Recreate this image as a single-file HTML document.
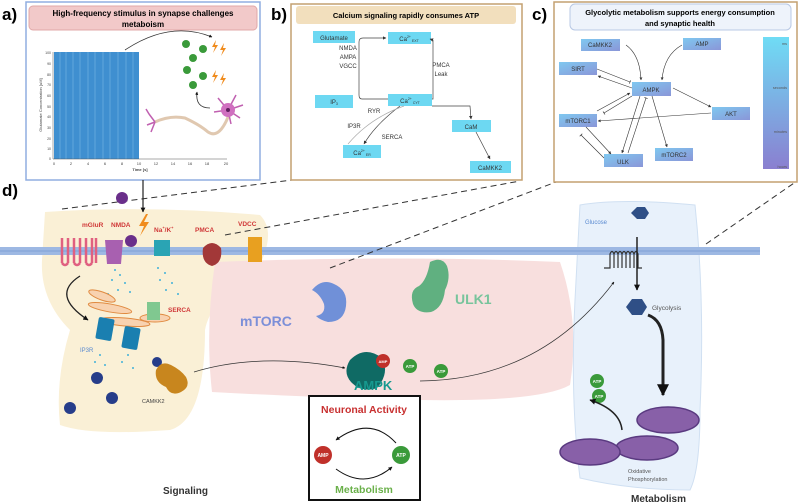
<!DOCTYPE html>
<html><head><meta charset="utf-8"><style>
html,body{margin:0;padding:0;background:#fff}
svg{display:block;font-family:"Liberation Sans",sans-serif}
</style></head><body>
<svg width="800" height="503" viewBox="0 0 800 503" xmlns="http://www.w3.org/2000/svg">
<defs>
<marker id="ah" viewBox="0 0 10 10" refX="9" refY="5" markerWidth="5" markerHeight="5" orient="auto"><path d="M0,0L10,5L0,10z" fill="#333"/></marker>
<marker id="ahb" viewBox="0 0 10 10" refX="9" refY="5" markerWidth="4" markerHeight="4" orient="auto"><path d="M0,0L10,5L0,10z" fill="#111"/></marker>
<marker id="tb" viewBox="0 0 10 10" refX="5" refY="5" markerWidth="6" markerHeight="6" orient="auto"><path d="M5,0L5,10" stroke="#333" stroke-width="2"/></marker>
<linearGradient id="bar" x1="0" y1="0" x2="0" y2="1"><stop offset="0" stop-color="#6fdcf5"/><stop offset="1" stop-color="#8a7fd0"/></linearGradient>
<linearGradient id="nd" x1="0" y1="0" x2="1" y2="1"><stop offset="0" stop-color="#7fc8f0"/><stop offset="1" stop-color="#8a96d8"/></linearGradient>
</defs>

<path d="M45,212 Q150,205 260,215 Q275,230 262,260 Q210,300 205,330 Q205,420 170,430 Q90,436 60,425 Q55,380 70,330 Q40,300 42,260 Z" fill="#faf0d6"/>
<path d="M215,262 Q400,255 560,262 Q580,320 570,385 Q540,402 420,400 Q300,397 212,392 Q205,330 215,262Z" fill="#f8dfde"/>
<path d="M580,205 Q620,198 695,205 Q705,300 700,410 Q700,470 690,490 Q630,490 580,478 Q570,400 575,300 Z" fill="#e8f1fb" stroke="#d0e0f2"/>

<rect x="0" y="247" width="760" height="8" fill="#9db8e3"/>
<line x1="0" y1="251" x2="760" y2="251" stroke="#7f9fd6" stroke-width="1"/>

<g stroke="#333" stroke-dasharray="6,4" fill="none" stroke-width="1">
<line x1="62" y1="209" x2="292" y2="180"/>
<line x1="225" y1="235" x2="520" y2="181"/>
<line x1="330" y1="268" x2="556" y2="182"/>
<line x1="706" y1="244" x2="797" y2="181"/>
</g>

<text x="2" y="20" font-size="17" font-weight="bold">a)</text>
<rect x="26" y="2" width="234" height="178" fill="#fff" stroke="#90aee0" stroke-width="1.5"/>
<rect x="29" y="6" width="228" height="24" rx="4" fill="#f2c9c9" stroke="#e0a8a8"/>
<text x="143" y="16" font-size="8" font-weight="bold" text-anchor="middle">High-frequency stimulus in synapse challenges</text>
<text x="143" y="27" font-size="8" font-weight="bold" text-anchor="middle">metaboism</text>
<rect x="54" y="52" width="85" height="107" fill="#3f8fd0"/>
<g stroke="#7ab8e6" stroke-width="0.6">
<line x1="60" y1="52" x2="60" y2="159"/><line x1="66" y1="52" x2="66" y2="159"/><line x1="73" y1="52" x2="73" y2="159"/><line x1="80" y1="52" x2="80" y2="159"/><line x1="88" y1="52" x2="88" y2="159"/><line x1="95" y1="52" x2="95" y2="159"/><line x1="103" y1="52" x2="103" y2="159"/><line x1="110" y1="52" x2="110" y2="159"/><line x1="118" y1="52" x2="118" y2="159"/><line x1="126" y1="52" x2="126" y2="159"/><line x1="133" y1="52" x2="133" y2="159"/>
</g>
<line x1="53" y1="52" x2="53" y2="159" stroke="#555" stroke-width="0.5"/>
<line x1="53" y1="159" x2="227" y2="159" stroke="#555" stroke-width="0.5"/>
<g font-size="3.5" fill="#444" text-anchor="end">
<text x="51" y="54">100</text><text x="51" y="65">90</text><text x="51" y="76">80</text><text x="51" y="86">70</text><text x="51" y="97">60</text><text x="51" y="108">50</text><text x="51" y="118">40</text><text x="51" y="129">30</text><text x="51" y="140">20</text><text x="51" y="150">10</text><text x="51" y="160">0</text>
</g>
<g font-size="4" fill="#444" text-anchor="middle">
<text x="54" y="165">0</text><text x="71" y="165">2</text><text x="88" y="165">4</text><text x="105" y="165">6</text><text x="122" y="165">8</text><text x="139" y="165">10</text><text x="156" y="165">12</text><text x="173" y="165">14</text><text x="190" y="165">16</text><text x="207" y="165">18</text><text x="226" y="165">20</text>
<text x="140" y="171" font-weight="bold">Time [s]</text>
</g>
<text x="42" y="105" font-size="4" fill="#444" transform="rotate(-90 42 105)" text-anchor="middle">Glutamate Concentration [uM]</text>
<path d="M125,50 Q170,20 212,37" stroke="#333" fill="none" stroke-width="0.8" marker-end="url(#ahb)"/>
<g fill="#3a9a3a"><circle cx="186" cy="44" r="4"/><circle cx="203" cy="49" r="4"/><circle cx="193" cy="58" r="4"/><circle cx="187" cy="70" r="4"/><circle cx="203" cy="76" r="4"/><circle cx="193" cy="85" r="4"/></g>
<g fill="#f08c1e"><path d="M216,40l-4,7h3l-2,6 5,-8h-3z"/><path d="M224,43l-4,7h3l-2,6 5,-8h-3z"/><path d="M216,70l-4,7h3l-2,6 5,-8h-3z"/><path d="M224,73l-4,7h3l-2,6 5,-8h-3z"/></g>
<path d="M210,108 Q195,108 197,92" stroke="#333" fill="none" stroke-width="0.8" marker-end="url(#ahb)"/>
<path d="M155,122 Q170,115 185,118 Q200,125 208,132 Q220,140 230,112" stroke="#e0c8b0" stroke-width="3" fill="none"/>
<g stroke="#c060b0" stroke-width="1.5" fill="none"><path d="M155,122 l-6,-8 M155,122 l-8,3 M155,122 l-4,10 M149,114 l-3,-5"/><path d="M228,110 l-10,-12 M228,110 l8,-15 M228,110 l15,-5 M228,110 l12,8 M228,110 l3,14 M228,110 l-14,2"/></g>
<circle cx="228" cy="110" r="7" fill="#d070c0"/><circle cx="228" cy="110" r="2" fill="#602060"/>

<text x="271" y="20" font-size="17" font-weight="bold">b)</text>
<rect x="291" y="4" width="231" height="176" fill="#fff" stroke="#c4a070" stroke-width="1.5"/>
<rect x="296" y="6" width="220" height="18" rx="3" fill="#f2dfbd"/>
<text x="406" y="18" font-size="7.5" font-weight="bold" text-anchor="middle">Calcium signaling rapidly consumes  ATP</text>
<g fill="#6dd8f2">
<rect x="313" y="31" width="42" height="12"/><rect x="388" y="32" width="43" height="12"/><rect x="315" y="95" width="38" height="13"/><rect x="388" y="94" width="44" height="12"/><rect x="452" y="120" width="39" height="12"/><rect x="343" y="145" width="38" height="13"/><rect x="470" y="161" width="41" height="12"/>
</g>
<g font-size="6" fill="#333" text-anchor="middle">
<text x="334" y="40">Glutamate</text><text x="409" y="41">Ca<tspan font-size="3.5" dy="-3">2+</tspan><tspan font-size="3.5" dy="4"> EXT</tspan></text>
<text x="334" y="104">IP<tspan font-size="3.5" dy="1">3</tspan></text>
<text x="410" y="103">Ca<tspan font-size="3.5" dy="-3">2+</tspan><tspan font-size="3.5" dy="4"> CYT</tspan></text>
<text x="471" y="129">CaM</text><text x="362" y="155">Ca<tspan font-size="3.5" dy="-3">2+</tspan><tspan font-size="3.5" dy="4"> ER</tspan></text>
<text x="490" y="170">CaMKK2</text>
<text x="348" y="50">NMDA</text><text x="348" y="59">AMPA</text><text x="348" y="68">VGCC</text>
<text x="441" y="67">PMCA</text><text x="441" y="76">Leak</text>
<text x="374" y="113">RYR</text><text x="354" y="128">IP3R</text><text x="392" y="139">SERCA</text>
</g>
<g stroke="#444" stroke-width="0.7" fill="none">
<path d="M388,99 L362,99 Q359,99 359,95 L359,42 Q359,38 363,38 L386,38" marker-end="url(#ah)"/>
<path d="M432,99 L433,99 L433,40 L430,39" marker-end="url(#ah)"/>
<path d="M432,106 L470,106 L471,119" marker-end="url(#ah)"/>
<path d="M476,132 L490,159" marker-end="url(#ah)"/>
<path d="M400,106 Q375,125 364,144" marker-end="url(#ah)"/>
<path d="M404,106 Q370,118 348,144" stroke="#aaa"/>
</g>

<text x="532" y="20" font-size="17" font-weight="bold">c)</text>
<rect x="554" y="2" width="243" height="180" fill="#fff" stroke="#c4a070" stroke-width="1.5"/>
<rect x="570" y="4" width="221" height="26" rx="5" fill="#eef3fb" stroke="#b8c8e4"/>
<text x="680" y="15" font-size="7.5" font-weight="bold" text-anchor="middle">Glycolytic metabolism supports energy consumption</text>
<text x="680" y="26" font-size="7.5" font-weight="bold" text-anchor="middle">and synaptic health</text>
<rect x="763" y="37" width="26" height="132" fill="url(#bar)"/>
<g font-size="3.8" fill="#555" text-anchor="end"><text x="787" y="45">ms</text><text x="787" y="89">seconds</text><text x="787" y="133">minutes</text><text x="787" y="168">hours</text></g>
<g fill="url(#nd)">
<rect x="581" y="39" width="39" height="12"/><rect x="683" y="38" width="38" height="12"/><rect x="559" y="62" width="38" height="13"/><rect x="632" y="82" width="39" height="14"/><rect x="712" y="107" width="38" height="13"/><rect x="559" y="114" width="38" height="13"/><rect x="604" y="154" width="39" height="13"/><rect x="655" y="148" width="38" height="13"/>
</g>
<g font-size="6" fill="#333" text-anchor="middle">
<text x="600" y="47">CaMKK2</text><text x="702" y="46">AMP</text><text x="578" y="71">SIRT</text><text x="651" y="92">AMPK</text><text x="731" y="116">AKT</text><text x="578" y="123">mTORC1</text><text x="623" y="164">ULK</text><text x="674" y="157">mTORC2</text>
</g>
<g stroke="#333" stroke-width="0.6" fill="none">
<path d="M626,45 Q640,55 641,80" marker-end="url(#ah)"/>
<path d="M682,45 Q664,55 662,80" marker-end="url(#ah)"/>
<path d="M597,69 L630,82" marker-end="url(#tb)"/>
<path d="M632,88 L598,76" marker-end="url(#ah)"/>
<path d="M673,88 L711,107" marker-end="url(#ah)"/>
<path d="M711,113 L598,121" marker-end="url(#ah)"/>
<path d="M597,111 L630,93" marker-end="url(#ah)"/>
<path d="M632,96 L604,113" marker-end="url(#tb)"/>
<path d="M640,96 L622,153" marker-end="url(#ah)"/>
<path d="M628,153 L646,98" marker-end="url(#tb)"/>
<path d="M652,96 L667,147" marker-end="url(#ah)"/>
<path d="M586,127 L611,154" marker-end="url(#ah)"/>
<path d="M604,158 L581,135" marker-end="url(#tb)"/>
</g>

<text x="2" y="196" font-size="17" font-weight="bold">d)</text>
<circle cx="122" cy="198" r="6" fill="#6a2f8a"/>
<line x1="143" y1="180" x2="143" y2="212" stroke="#222" stroke-width="1.2" marker-end="url(#ahb)"/>
<path d="M146,214 l-7,12 h5 l-4,10 9,-14 h-5 l4,-8z" fill="#f08c1e"/>
<g font-size="6.5" font-weight="bold" fill="#d03838">
<text x="82" y="227">mGluR</text><text x="111" y="227">NMDA</text><text x="154" y="232">Na<tspan font-size="4" dy="-3">+</tspan><tspan dy="3">/K</tspan><tspan font-size="4" dy="-3">+</tspan></text><text x="195" y="232">PMCA</text><text x="238" y="226">VDCC</text>
<text x="168" y="312">SERCA</text>
</g>
<g stroke="#e06080" stroke-width="2.5" fill="none"><path d="M62,238 v25 M68,238 v25 M74,238 v25 M80,238 v25 M86,238 v25 M92,238 v25 M96,238 v25"/><path d="M62,263 Q65,267 68,263 M74,263 Q77,267 80,263 M86,263 Q89,267 92,263"/></g>
<path d="M105,240 h18 l-2,24 h-14z" fill="#a860b0"/><circle cx="131" cy="241" r="6" fill="#6a2f8a"/>
<path d="M154,240 h16 v16 h-16z" fill="#2aa4b4"/>
<path d="M203,248 q9,-10 18,0 q2,15 -9,18 q-11,-3 -9,-18z" fill="#a23838"/>
<path d="M248,237 h14 v25 h-14z" fill="#e8a020"/>
<g fill="#40b0d8">
<circle cx="115" cy="270" r="1"/><circle cx="120" cy="275" r="1"/><circle cx="112" cy="280" r="1"/><circle cx="125" cy="283" r="1"/><circle cx="118" cy="290" r="1"/><circle cx="130" cy="292" r="1"/><circle cx="108" cy="294" r="1"/><circle cx="158" cy="268" r="1"/><circle cx="165" cy="273" r="1"/><circle cx="160" cy="280" r="1"/><circle cx="172" cy="283" r="1"/><circle cx="166" cy="290" r="1"/><circle cx="178" cy="294" r="1"/><circle cx="100" cy="355" r="1"/><circle cx="95" cy="362" r="1"/><circle cx="105" cy="365" r="1"/><circle cx="128" cy="355" r="1"/><circle cx="122" cy="362" r="1"/><circle cx="133" cy="368" r="1"/>
</g>
<g stroke="#e08a40" stroke-width="1" fill="#f8d2b0">
<ellipse cx="102" cy="296" rx="14" ry="4" transform="rotate(20 102 296)"/><ellipse cx="110" cy="308" rx="22" ry="4" transform="rotate(10 110 308)"/><ellipse cx="125" cy="322" rx="25" ry="4" transform="rotate(5 125 322)"/><ellipse cx="155" cy="318" rx="15" ry="4"/>
</g>
<path d="M80,276 Q50,295 88,320" stroke="#222" stroke-width="1.3" fill="none" marker-end="url(#ahb)"/>
<rect x="97" y="318" width="16" height="22" rx="2" fill="#1a7fb0" transform="rotate(10 105 329)"/>
<rect x="123" y="327" width="16" height="22" rx="2" fill="#1a7fb0" transform="rotate(10 131 338)"/>
<rect x="147" y="302" width="13" height="18" fill="#80c890"/>
<text x="80" y="352" font-size="6" fill="#5a8ad0">IP3R</text>
<g fill="#263d8a"><circle cx="97" cy="378" r="6"/><circle cx="112" cy="398" r="6"/><circle cx="70" cy="408" r="6"/><circle cx="157" cy="362" r="5"/></g>
<path d="M156,370 q5,-10 15,-5 q10,5 15,12 q5,10 -5,15 q-10,5 -15,-5 q-12,-5 -10,-17z" fill="#c8861e"/>
<text x="142" y="403" font-size="5.5" fill="#444">CAMKK2</text>
<path d="M194,372 Q260,352 345,368" stroke="#333" stroke-width="0.7" fill="none" marker-end="url(#ahb)"/>
<path d="M312,290 q10,-12 22,-6 q14,6 12,22 q-2,16 -18,16 q-8,-2 -12,-6 q10,-2 8,-12 q-4,-10 -12,-14z" fill="#7090d8"/>
<text x="240" y="326" font-size="14" font-weight="bold" fill="#7c8fd8">mTORC</text>
<path d="M430,262 q12,-6 17,4 q4,12 -2,24 q-2,18 -14,22 q-14,2 -18,-8 q-4,-14 6,-18 q8,-6 11,-24z" fill="#60b080"/>
<text x="455" y="304" font-size="14" font-weight="bold" fill="#78c49c">ULK1</text>
<path d="M350,360 q15,-15 32,-2 q8,15 -5,30 q-15,5 -25,-5 q-10,-10 -2,-23z" fill="#0f6a64"/>
<circle cx="383" cy="361" r="7" fill="#c0302a"/><text x="383" y="363" font-size="4" fill="#fff" text-anchor="middle" font-weight="bold">AMP</text>
<g fill="#3a9a3a"><circle cx="410" cy="366" r="7"/><circle cx="441" cy="371" r="7"/></g>
<g font-size="4.5" fill="#fff" text-anchor="middle" font-weight="bold"><text x="410" y="368">ATP</text><text x="441" y="373">ATP</text></g>
<text x="354" y="390" font-size="13" font-weight="bold" fill="#16998f">AMPK</text>
<path d="M420,381 Q540,380 614,282" stroke="#333" stroke-width="0.7" fill="none" marker-end="url(#ahb)"/>

<rect x="309" y="396" width="111" height="104" fill="#fff" stroke="#111" stroke-width="2"/>
<text x="364" y="413" font-size="10.5" font-weight="bold" fill="#c83030" text-anchor="middle">Neuronal Activity</text>
<text x="364" y="493" font-size="10.5" font-weight="bold" fill="#6ab04a" text-anchor="middle">Metabolism</text>
<circle cx="323" cy="455" r="9" fill="#c0302a"/><text x="323" y="457" font-size="5" fill="#fff" text-anchor="middle" font-weight="bold">AMP</text>
<circle cx="401" cy="455" r="9" fill="#3a9a3a"/><text x="401" y="457" font-size="5" fill="#fff" text-anchor="middle" font-weight="bold">ATP</text>
<path d="M396,443 Q370,415 336,440" stroke="#111" fill="none" stroke-width="1" marker-end="url(#ahb)"/>
<path d="M336,469 Q365,490 392,467" stroke="#111" fill="none" stroke-width="1" marker-end="url(#ahb)"/>

<text x="163" y="494" font-size="10" font-weight="bold" fill="#333">Signaling</text>
<text x="631" y="502" font-size="10" font-weight="bold" fill="#333">Metabolism</text>

<text x="585" y="224" font-size="6" fill="#5a8ad0">Glucose</text>
<polygon points="631,213 637,207 645,207 649,213 645,219 637,219" fill="#2f4f86"/>
<g stroke="#333" stroke-width="1.2" fill="none"><path d="M604,268 h6 v-14 q2,-5 4,0 v14 v-14 q2,-5 4,0 v14 v-14 q2,-5 4,0 v14 v-14 q2,-5 4,0 v14 v-14 q2,-5 4,0 v14 v-14 q2,-5 4,0 v14 v-14 q2,-5 4,0 v14 h4"/></g>
<line x1="637" y1="237" x2="637" y2="290" stroke="#222" stroke-width="1.5" marker-end="url(#ahb)"/>
<polygon points="626,307 632,299 642,299 647,307 642,315 632,315" fill="#2f4f86"/>
<text x="652" y="310" font-size="6.5" fill="#555">Glycolysis</text>
<path d="M648,315 Q662,320 663,340 L663,395" stroke="#222" stroke-width="3" fill="none" marker-end="url(#ahb)"/>
<g fill="#8860a8" stroke="#5a3a80" stroke-width="1.5">
<ellipse cx="668" cy="420" rx="31" ry="13"/><ellipse cx="647" cy="448" rx="31" ry="12"/><ellipse cx="590" cy="452" rx="30" ry="13"/>
</g>
<g fill="#3a9a3a"><circle cx="597" cy="381" r="7"/><circle cx="599" cy="396" r="7"/></g>
<g font-size="4.5" fill="#fff" text-anchor="middle" font-weight="bold"><text x="597" y="383">ATP</text><text x="599" y="398">ATP</text></g>
<path d="M622,430 Q620,410 590,400" stroke="#222" stroke-width="1.5" fill="none" marker-end="url(#ahb)"/>
<text x="628" y="473" font-size="5.5" fill="#555">Oxidative</text>
<text x="628" y="481" font-size="5.5" fill="#555">Phosphorylation</text>
</svg>
</body></html>
